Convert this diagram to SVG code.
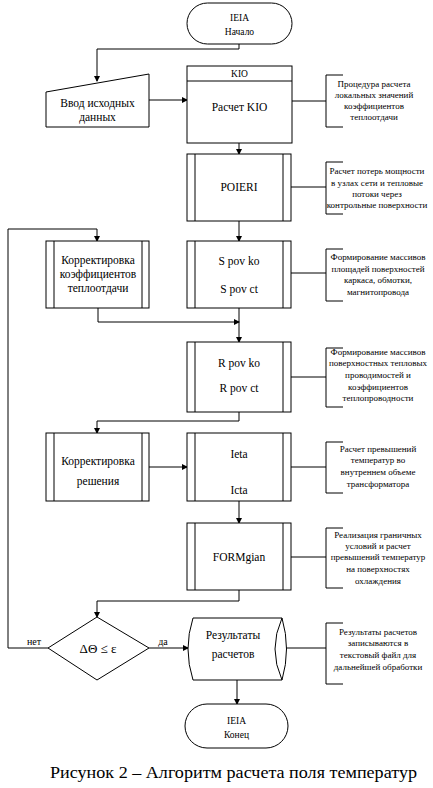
<svg xmlns="http://www.w3.org/2000/svg" width="433" height="788" viewBox="0 0 433 788" font-family="Liberation Serif, DejaVu Serif, Times New Roman, serif">
<defs>
<marker id="arr" markerWidth="6" markerHeight="6" refX="5" refY="3" orient="auto" markerUnits="userSpaceOnUse">
<path d="M0,0 L6,3 L0,6 Z" fill="#000"/>
</marker>
<style>
text{fill:#000}
.s{fill:#fff;stroke:#000;stroke-width:1}
.b{fill:none;stroke:#000;stroke-width:1}
.c{fill:none;stroke:#000;stroke-width:1}
.a{fill:none;stroke:#000;stroke-width:1;marker-end:url(#arr)}
.t{font-size:11.5px;text-anchor:middle}
.h{font-size:9.5px;text-anchor:middle}
.n{font-size:9px;text-anchor:middle}
.cap{font-size:17px}
</style>
</defs>
<rect width="433" height="788" fill="#fff"/>
<g id="connectors">
<polyline class="a" points="239,44 239,49 97,49 97,81"/>
<line class="a" x1="149" y1="100" x2="187" y2="100"/>
<line class="a" x1="239" y1="143" x2="239" y2="154"/>
<line class="c" x1="292" y1="101" x2="326" y2="101"/>
<line class="a" x1="239" y1="221" x2="239" y2="241"/>
<line class="c" x1="291" y1="187" x2="326" y2="187"/>
<polyline class="a" points="48,648 8,648 8,229 97,229 97,241"/>
<polyline class="a" points="98,308 98,322 239,322"/>
<line class="a" x1="239" y1="308" x2="239" y2="342"/>
<line class="c" x1="291" y1="273" x2="326" y2="273"/>
<polyline class="a" points="239,412 239,421 97,421 97,433"/>
<line class="c" x1="291" y1="377" x2="326" y2="377"/>
<line class="a" x1="149" y1="467" x2="187" y2="467"/>
<line class="c" x1="291" y1="467" x2="326" y2="467"/>
<line class="a" x1="239" y1="501" x2="239" y2="523"/>
<line class="c" x1="291" y1="557" x2="326" y2="557"/>
<polyline class="a" points="239,590 239,601 97,601 97,617"/>
<line class="a" x1="149" y1="648" x2="188" y2="648"/>
<line class="c" x1="285" y1="648" x2="326" y2="648"/>
<line class="a" x1="237" y1="680" x2="237" y2="704"/>
<text class="n" x="34" y="645" style="font-size:10px">нет</text>
<text class="n" x="163" y="645" style="font-size:10px">да</text>
</g>
<g id="start">
<rect class="s" x="187" y="3" width="105" height="41" rx="20.5"/>
<text class="h" x="239.5" y="21">IEIA</text>
<text class="h" x="239.5" y="35">Начало</text>
</g>
<g id="input">
<polygon class="s" points="46,92 149,74 149,127 46,127"/>
<text class="t" x="97.5" y="107">Ввод исходных</text>
<text class="t" x="97.5" y="121">данных</text>
</g>
<g id="kio">
<rect class="s" x="187" y="66" width="105" height="77"/>
<line class="c" x1="187" y1="81" x2="292" y2="81"/>
<text class="h" x="239.5" y="77">KIO</text>
<text class="t" x="239.5" y="111">Расчет KIO</text>
</g>
<g id="kio-note">
<path class="b" d="M343,75 H326 V127 H343"/>
<text class="n" x="374" y="87">Процедура расчета</text>
<text class="n" x="374" y="98">локальных значений</text>
<text class="n" x="374" y="109">коэффициентов</text>
<text class="n" x="374" y="120">теплоотдачи</text>
</g>
<g id="poieri">
<rect class="s" x="187" y="154" width="104" height="67"/>
<line class="c" x1="195" y1="154" x2="195" y2="221"/>
<line class="c" x1="283" y1="154" x2="283" y2="221"/>
<text class="t" x="239" y="191">POIERI</text>
</g>
<g id="poieri-note">
<path class="b" d="M343,162 H326 V214 H343"/>
<text class="n" x="377" y="174">Расчет потерь мощности</text>
<text class="n" x="377" y="186">в узлах сети и тепловые</text>
<text class="n" x="377" y="197">потоки через</text>
<text class="n" x="377" y="208">контрольные поверхности</text>
</g>
<g id="corr1">
<rect class="s" x="46" y="241" width="103" height="67"/>
<line class="c" x1="54" y1="241" x2="54" y2="308"/>
<line class="c" x1="142" y1="241" x2="142" y2="308"/>
<text class="t" x="98" y="264">Корректировка</text>
<text class="t" x="98" y="278">коэффициентов</text>
<text class="t" x="98" y="292">теплоотдачи</text>
</g>
<g id="spov">
<rect class="s" x="187" y="241" width="104" height="67"/>
<line class="c" x1="195" y1="241" x2="195" y2="308"/>
<line class="c" x1="283" y1="241" x2="283" y2="308"/>
<text class="t" x="239" y="265">S pov ko</text>
<text class="t" x="239" y="293">S pov ct</text>
</g>
<g id="spov-note">
<path class="b" d="M343,249 H326 V301 H343"/>
<text class="n" x="378" y="260">Формирование массивов</text>
<text class="n" x="378" y="272">площадей поверхностей</text>
<text class="n" x="378" y="283">каркаса, обмотки,</text>
<text class="n" x="378" y="295">магнитопровода</text>
</g>
<g id="rpov">
<rect class="s" x="187" y="342" width="104" height="70"/>
<line class="c" x1="195" y1="342" x2="195" y2="412"/>
<line class="c" x1="283" y1="342" x2="283" y2="412"/>
<text class="t" x="239" y="367">R pov ko</text>
<text class="t" x="239" y="392">R pov ct</text>
</g>
<g id="rpov-note">
<path class="b" d="M343,348 H326 V407 H343"/>
<text class="n" x="378" y="355">Формирование массивов</text>
<text class="n" x="378" y="366">поверхностных тепловых</text>
<text class="n" x="378" y="378">проводимостей и</text>
<text class="n" x="378" y="390">коэффициентов</text>
<text class="n" x="378" y="401">теплопроводности</text>
</g>
<g id="corr2">
<rect class="s" x="46" y="433" width="103" height="68"/>
<line class="c" x1="54" y1="433" x2="54" y2="501"/>
<line class="c" x1="142" y1="433" x2="142" y2="501"/>
<text class="t" x="98" y="465">Корректировка</text>
<text class="t" x="98" y="485">решения</text>
</g>
<g id="teta">
<rect class="s" x="187" y="433" width="104" height="68"/>
<line class="c" x1="195" y1="433" x2="195" y2="501"/>
<line class="c" x1="283" y1="433" x2="283" y2="501"/>
<text class="t" x="239" y="458">Ieta</text>
<text class="t" x="239" y="494">Icta</text>
</g>
<g id="teta-note">
<path class="b" d="M343,442 H326 V493 H343"/>
<text class="n" x="378" y="452">Расчет превышений</text>
<text class="n" x="378" y="463">температур во</text>
<text class="n" x="378" y="475">внутреннем объеме</text>
<text class="n" x="378" y="487">трансформатора</text>
</g>
<g id="formgian">
<rect class="s" x="187" y="523" width="104" height="67"/>
<line class="c" x1="195" y1="523" x2="195" y2="590"/>
<line class="c" x1="283" y1="523" x2="283" y2="590"/>
<text class="t" x="239" y="561">FORMgian</text>
</g>
<g id="formgian-note">
<path class="b" d="M343,528 H326 V588 H343"/>
<text class="n" x="378" y="538">Реализация граничных</text>
<text class="n" x="378" y="549">условий и расчет</text>
<text class="n" x="378" y="560">превышений температур</text>
<text class="n" x="378" y="572">на поверхностях</text>
<text class="n" x="378" y="584">охлаждения</text>
</g>
<g id="decision">
<polygon class="s" points="97,617 149,648 97,680 48,648"/>
<text class="t" x="98" y="653" style="font-size:13px">ΔΘ ≤ ε</text>
</g>
<g id="results">
<path class="s" d="M193,618 H282 Q291,649 282,680 H193 Q183,649 193,618 Z"/>
<path class="c" d="M282,618 Q268,649 282,680"/>
<text class="t" x="233" y="639">Результаты</text>
<text class="t" x="233" y="658">расчетов</text>
</g>
<g id="results-note">
<path class="b" d="M343,623 H326 V684 H343"/>
<text class="n" x="378" y="635">Результаты расчетов</text>
<text class="n" x="378" y="646">записываются в</text>
<text class="n" x="378" y="658">текстовый файл для</text>
<text class="n" x="378" y="670">дальнейшей обработки</text>
</g>
<g id="end">
<rect class="s" x="185" y="704" width="103" height="44" rx="22"/>
<text class="h" x="236.5" y="724">IEIA</text>
<text class="h" x="236.5" y="738">Конец</text>
</g>
<text class="cap" x="50" y="778" textLength="367" lengthAdjust="spacingAndGlyphs">Рисунок 2 – Алгоритм расчета поля температур</text>
</svg>
